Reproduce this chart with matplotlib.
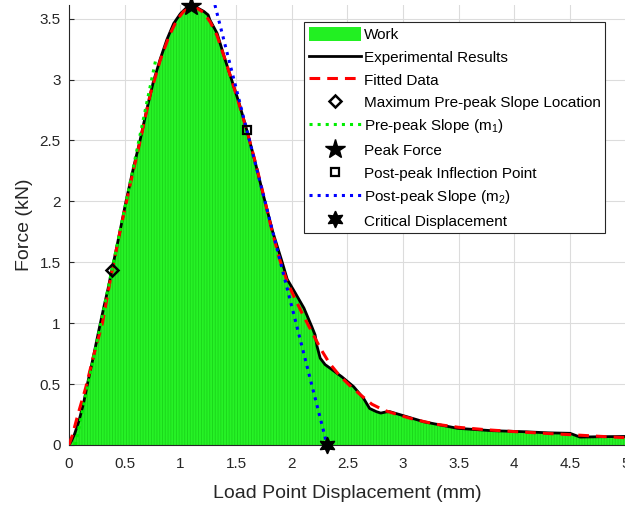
import matplotlib
matplotlib.use("Agg")
import matplotlib.pyplot as plt
from matplotlib.patches import Patch

# ---- measured load-displacement response ----
exp_x = [0.00, 0.02, 0.05, 0.09, 0.13, 0.17, 0.22, 0.27, 0.31, 0.35, 0.386,
         0.43, 0.47, 0.512, 0.575, 0.638, 0.70, 0.757, 0.82, 0.88, 0.94, 1.00,
         1.05, 1.093, 1.15, 1.21, 1.25, 1.265, 1.33, 1.40, 1.46, 1.53, 1.597,
         1.67, 1.746, 1.83, 1.915, 1.96, 2.031, 2.11, 2.18, 2.21, 2.228, 2.256,
         2.30, 2.346, 2.45, 2.555, 2.645, 2.70, 2.76, 2.80, 2.85, 2.88, 2.98,
         3.19, 3.49, 3.79, 4.09, 4.30, 4.50, 4.59, 4.77, 5.00]
exp_y = [0.00, 0.03, 0.09, 0.20, 0.34, 0.52, 0.73, 0.95, 1.12, 1.28, 1.44,
         1.63, 1.81, 2.00, 2.26, 2.50, 2.76, 2.98, 3.17, 3.33, 3.46, 3.54,
         3.585, 3.60, 3.59, 3.56, 3.53, 3.49, 3.38, 3.17, 3.00, 2.80, 2.585,
         2.33, 2.05, 1.75, 1.50, 1.36, 1.25, 1.124, 0.973, 0.905, 0.81, 0.713,
         0.66, 0.63, 0.56, 0.48, 0.384, 0.30, 0.274, 0.262, 0.272, 0.274, 0.247,
         0.19, 0.137, 0.118, 0.109, 0.100, 0.096, 0.065, 0.068, 0.070]

# ---- fitted model ----
fit_x = [0.00, 0.03, 0.08, 0.15, 0.22, 0.30, 0.38, 0.46, 0.55, 0.64, 0.73,
         0.82, 0.90, 0.97, 1.03, 1.09, 1.15, 1.21, 1.27, 1.33, 1.40, 1.47,
         1.54, 1.61, 1.68, 1.75, 1.82, 1.89, 1.96, 2.03, 2.10, 2.18, 2.26,
         2.34, 2.43, 2.52, 2.62, 2.72, 2.83, 2.95, 3.10, 3.30, 3.50, 3.75,
         4.00, 4.25, 4.50, 4.75, 5.00]
fit_y = [0.00, 0.08, 0.25, 0.47, 0.73, 1.00, 1.40, 1.76, 2.14, 2.50, 2.88,
         3.16, 3.36, 3.49, 3.56, 3.59, 3.585, 3.55, 3.47, 3.36, 3.17, 2.97,
         2.76, 2.54, 2.30, 2.04, 1.77, 1.53, 1.34, 1.20, 1.07, 0.93, 0.79,
         0.67, 0.57, 0.49, 0.41, 0.335, 0.285, 0.25, 0.21, 0.17, 0.145, 0.125,
         0.11, 0.097, 0.085, 0.072, 0.06]

# ---- characteristic points ----
max_slope_x, max_slope_y = 0.386, 1.44
m1 = 4.38
m1_top_y = 3.166
peak_x, peak_y = 1.093, 3.60
inflect_x, inflect_y = 1.597, 2.585
m2 = -3.585
crit_x, crit_y = 2.318, 0.0

x_ticks = [0, 0.5, 1, 1.5, 2, 2.5, 3, 3.5, 4, 4.5, 5]
y_ticks = [0, 0.5, 1, 1.5, 2, 2.5, 3, 3.5]
y_top = 3.612

plt.rcParams['font.family'] = ['Liberation Sans', 'DejaVu Sans']
plt.rcParams['mathtext.fontset'] = 'custom'
plt.rcParams['mathtext.rm'] = 'Liberation Sans'
plt.rcParams['mathtext.it'] = 'Liberation Sans:italic'
plt.rcParams['hatch.linewidth'] = 0.6

axis_col = '#262626'

fig = plt.figure(figsize=(6.25, 5.07), dpi=100)
ax = fig.add_axes([69 / 625, (507 - 445) / 507, 556.7 / 625, 440 / 507])

# area under the measured curve (work)
ax.fill_between(exp_x, exp_y, 0, facecolor='#26f226', edgecolor='#1ad41a',
                hatch='||||||', linewidth=0, zorder=1)

h_exp, = ax.plot(exp_x, exp_y, color='black', lw=2.0, zorder=3)
h_fit, = ax.plot(fit_x, fit_y, color='red', lw=2.2, dashes=(3.5, 2.3), zorder=4)

h_max, = ax.plot([max_slope_x], [max_slope_y], ls='none', marker='D', ms=6.5,
                 mfc='none', mec='black', mew=1.8, zorder=6)

# pre-peak tangent through the max-slope location
pre_x = [max_slope_x - max_slope_y / m1, max_slope_x + (m1_top_y - max_slope_y) / m1]
pre_y = [0, m1_top_y]
h_m1, = ax.plot(pre_x, pre_y, color='#00ee00', lw=2.2, ls=':', zorder=5)

h_peak, = ax.plot([peak_x], [peak_y], ls='none', marker='*', ms=15,
                  color='black', clip_on=False, zorder=7)
h_inf, = ax.plot([inflect_x], [inflect_y], ls='none', marker='s', ms=6,
                 mfc='none', mec='black', mew=1.6, zorder=6)

# post-peak tangent through the inflection point, down to the critical displacement
post_x = [inflect_x + (y_top - inflect_y) / m2, inflect_x - inflect_y / m2]
post_y = [y_top, 0]
h_m2, = ax.plot(post_x, post_y, color='#0000ff', lw=2.2, ls=':', zorder=5)

h_crit, = ax.plot([crit_x], [crit_y], ls='none', marker=(6, 1, 0), ms=12,
                  color='black', clip_on=False, zorder=7)

ax.set_xlim(0, 5)
ax.set_ylim(0, y_top)
ax.set_xticks(x_ticks)
ax.set_yticks(y_ticks)
ax.set_xticklabels(['%g' % v for v in x_ticks])
ax.set_yticklabels(['%g' % v for v in y_ticks])
ax.tick_params(direction='in', length=3.5, width=0.8, colors=axis_col,
               labelsize=11)
ax.tick_params(axis='x', pad=9)
ax.tick_params(axis='y', pad=6)
ax.grid(True, color='#dcdcdc', lw=0.8)
ax.set_axisbelow(True)
for s in ['top', 'right']:
    ax.spines[s].set_visible(False)
for s in ['left', 'bottom']:
    ax.spines[s].set_color(axis_col)
    ax.spines[s].set_linewidth(0.8)

ax.set_xlabel('Load Point Displacement (mm)', fontsize=14, color=axis_col, labelpad=10)
ax.set_ylabel('Force (kN)', fontsize=14, color=axis_col, labelpad=5)

work_patch = Patch(facecolor='#22f022', edgecolor='none')
handles = [work_patch, h_exp, h_fit, h_max, h_m1, h_peak, h_inf, h_m2, h_crit]
labels = ['Work', 'Experimental Results', 'Fitted Data',
          'Maximum Pre-peak Slope Location', 'Pre-peak Slope (m$_1$)',
          'Peak Force', 'Post-peak Inflection Point', 'Post-peak Slope (m$_2$)',
          'Critical Displacement']
leg = ax.legend(handles, labels, loc='upper left',
                bbox_to_anchor=((304 - 69) / 556.7, (445 - 22) / 440),
                borderaxespad=0, fontsize=11, handlelength=3.4,
                handleheight=1.1, handletextpad=0.2, labelspacing=0.47,
                borderpad=0.3, fancybox=False, framealpha=1,
                edgecolor=axis_col)
leg.get_frame().set_linewidth(0.8)
for t in leg.get_texts():
    t.set_color('black')

fig.savefig('out.png', dpi=100)
